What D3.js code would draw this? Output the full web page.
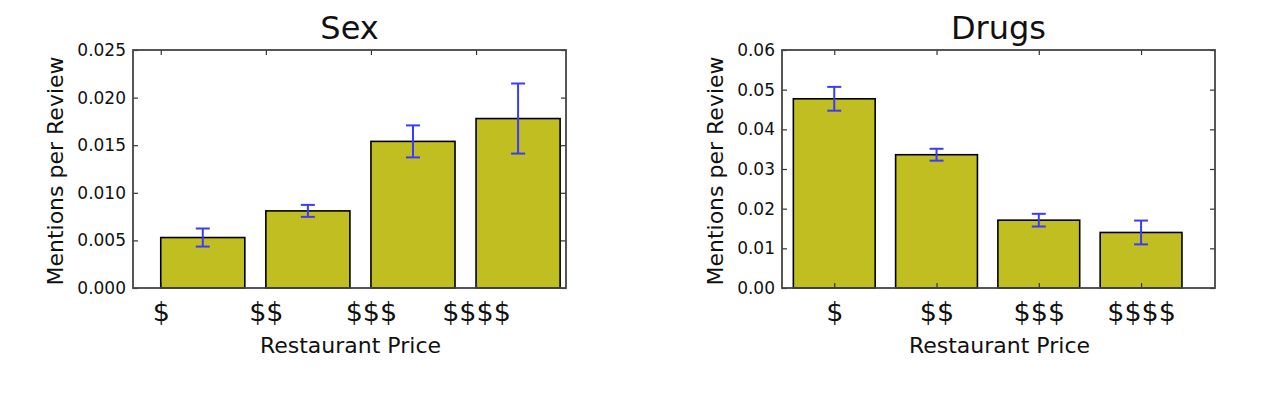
<!DOCTYPE html>
<html>
<head>
<meta charset="utf-8">
<script src="https://cdn.jsdelivr.net/npm/d3@7"></script>
<style>
  body { margin: 0; background: #fff; }
  svg { display: block; font-family: "DejaVu Sans", sans-serif; }
</style>
</head>
<body>
<div id="chart"></div>
<script>
// data
var categories = ["$", "$$", "$$$", "$$$$"];
var positions = [0, 1, 2, 3];

var sexValues = [0.0053, 0.0081, 0.0154, 0.0178];
var sexErrors = [0.00095, 0.00063, 0.00168, 0.00368];
var sexTicks = [0, 0.005, 0.010, 0.015, 0.020, 0.025];

var drugsValues = [0.0477, 0.0336, 0.0171, 0.0140];
var drugsErrors = [0.0030, 0.0015, 0.0016, 0.0030];
var drugsTicks = [0, 0.01, 0.02, 0.03, 0.04, 0.05, 0.06];

function main(){
    var svg = d3.select("#chart").append("svg")
        .attr("width", 1274)
        .attr("height", 396);

    // left panel: bars start at the tick (edge aligned)
    drawPanel(svg, {
        title: "Sex",
        values: sexValues,
        errors: sexErrors,
        ticks: sexTicks,
        format: d3.format(".3f"),
        left: 133, right: 566, top: 50, bottom: 288,
        xlim: [-0.264, 3.856],
        offset: 0,
        ylabelX: 63
    });

    // right panel: bars centred on the tick
    drawPanel(svg, {
        title: "Drugs",
        values: drugsValues,
        errors: drugsErrors,
        ticks: drugsTicks,
        format: d3.format(".2f"),
        left: 782, right: 1215, top: 50, bottom: 288,
        xlim: [-0.511, 3.723],
        offset: -0.4,
        ylabelX: 723
    });
}

function drawPanel(svg, p){
    var width = p.right - p.left;
    var height = p.bottom - p.top;
    var g = svg.append("g").attr("transform", "translate(" + p.left + "," + p.top + ")");

    var x = d3.scaleLinear().domain(p.xlim).range([0, width]);
    var y = d3.scaleLinear().domain([0, p.ticks[p.ticks.length - 1]]).range([height, 0]);
    var barWidth = 0.8;

    // bars
    g.selectAll(".bar")
        .data(p.values)
        .enter().append("rect")
        .attr("class", "bar")
        .attr("x", function(d, i){ return x(positions[i] + p.offset); })
        .attr("y", function(d){ return y(d); })
        .attr("width", x(barWidth) - x(0))
        .attr("height", function(d){ return height - y(d); })
        .attr("fill", "#c1be22")
        .attr("stroke", "#000")
        .attr("stroke-width", 1.6);

    // error bars
    var cap = 7;
    var eb = g.selectAll(".err")
        .data(p.values)
        .enter().append("g")
        .attr("class", "err")
        .attr("stroke", "#3b3bff")
        .attr("stroke-width", 2);
    eb.append("line")
        .attr("x1", function(d, i){ return x(positions[i] + p.offset + barWidth / 2); })
        .attr("x2", function(d, i){ return x(positions[i] + p.offset + barWidth / 2); })
        .attr("y1", function(d, i){ return y(d + p.errors[i]); })
        .attr("y2", function(d, i){ return y(d - p.errors[i]); });
    [1, -1].forEach(function(s){
        eb.append("line")
            .attr("x1", function(d, i){ return x(positions[i] + p.offset + barWidth / 2) - cap; })
            .attr("x2", function(d, i){ return x(positions[i] + p.offset + barWidth / 2) + cap; })
            .attr("y1", function(d, i){ return y(d + s * p.errors[i]); })
            .attr("y2", function(d, i){ return y(d + s * p.errors[i]); });
    });

    // axes, ticks pointing inward
    var yLeft = g.append("g")
        .call(d3.axisLeft(y).tickValues(p.ticks).tickFormat(p.format).tickSize(-5).tickPadding(7));
    var yRight = g.append("g")
        .attr("transform", "translate(" + width + ",0)")
        .call(d3.axisRight(y).tickValues(p.ticks).tickFormat("").tickSize(-5));
    var xTop = g.append("g")
        .call(d3.axisTop(x).tickValues(positions).tickFormat("").tickSize(-5));
    var xBottom = g.append("g")
        .attr("transform", "translate(0," + height + ")")
        .call(d3.axisBottom(x).tickValues(positions)
            .tickFormat(function(d, i){ return categories[i]; })
            .tickSize(-5).tickPadding(14));

    [yLeft, yRight, xTop, xBottom].forEach(function(a){
        a.select(".domain").remove();
        a.selectAll(".tick line").attr("stroke", "#333").attr("stroke-width", 1.2);
        a.selectAll(".tick text").attr("fill", "#111");
    });
    yLeft.selectAll("text").attr("font-size", "17px").attr("font-family", "DejaVu Sans");
    xBottom.selectAll("text").attr("font-size", "27px").attr("font-family", "DejaVu Sans");

    // frame
    g.append("rect")
        .attr("width", width)
        .attr("height", height)
        .attr("fill", "none")
        .attr("stroke", "#444")
        .attr("stroke-width", 1.8);

    // title
    svg.append("text")
        .attr("x", p.left + width / 2)
        .attr("y", 38.5)
        .attr("text-anchor", "middle")
        .attr("font-size", "32px")
        .attr("fill", "#111")
        .text(p.title);

    // axis labels
    svg.append("text")
        .attr("x", p.left + width / 2 + 1)
        .attr("y", 353)
        .attr("text-anchor", "middle")
        .attr("font-size", "22px")
        .attr("fill", "#111")
        .text("Restaurant Price");

    svg.append("text")
        .attr("transform", "translate(" + p.ylabelX + "," + 171 + ") rotate(-90)")
        .attr("text-anchor", "middle")
        .attr("font-size", "22px")
        .attr("fill", "#111")
        .text("Mentions per Review");
}
main();
</script>
</body>
</html>
